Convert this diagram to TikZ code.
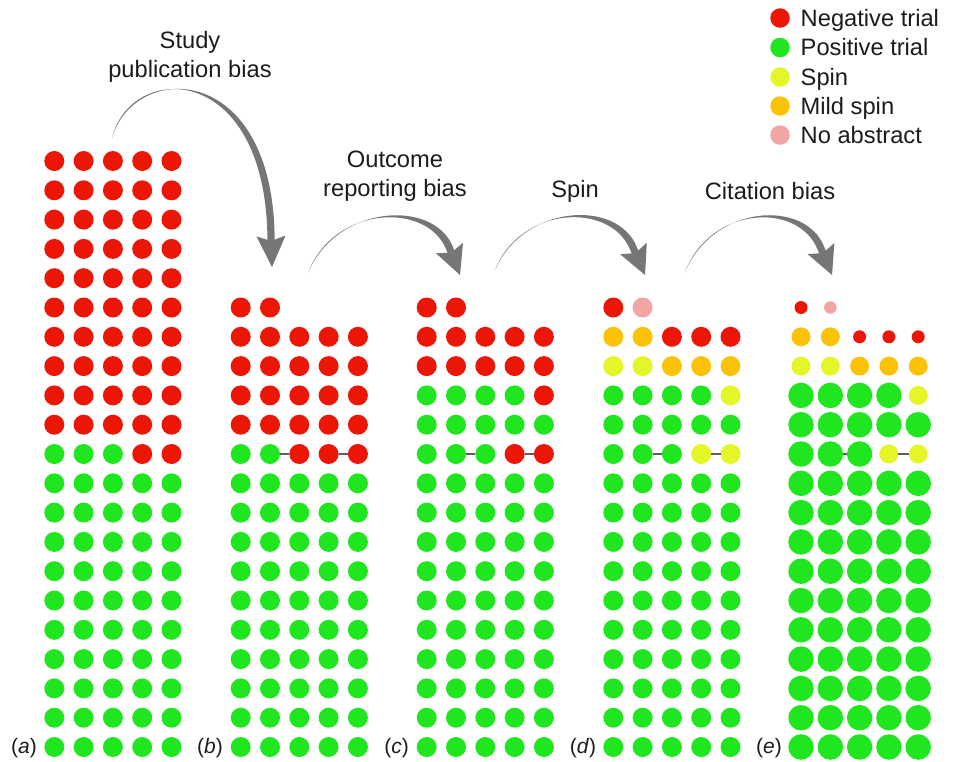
\documentclass[tikz,border=0pt]{standalone}
\usepackage{fontspec}
\setmainfont{Liberation Sans}
\usetikzlibrary{calc}
\definecolor{negred}{RGB}{236,22,6}
\definecolor{posgreen}{RGB}{32,230,32}
\definecolor{spinyellow}{RGB}{228,245,40}
\definecolor{mildorange}{RGB}{252,194,8}
\definecolor{noabpink}{RGB}{242,165,165}
\definecolor{arrowgray}{RGB}{118,118,118}
\definecolor{linkgray}{RGB}{95,95,95}
\definecolor{textdark}{RGB}{28,28,28}
\tikzset{
  dot/.style={circle, inner sep=0pt, outer sep=0pt, draw=none},
  dneg/.style={dot, fill=negred, minimum size=20pt},
  dpos/.style={dot, fill=posgreen, minimum size=20pt},
  dspin/.style={dot, fill=spinyellow, minimum size=20pt},
  dmild/.style={dot, fill=mildorange, minimum size=20pt},
  dnoab/.style={dot, fill=noabpink, minimum size=20pt},
  dnegs/.style={dot, fill=negred, minimum size=13pt},
  dnoabs/.style={dot, fill=noabpink, minimum size=12.5pt},
  dspine/.style={dot, fill=spinyellow, minimum size=19pt},
  dmilde/.style={dot, fill=mildorange, minimum size=19pt},
  dposb/.style={dot, fill=posgreen, minimum size=25.5pt},
  link/.style={draw=linkgray, line width=2pt},
  lbl/.style={font=\fontsize{23.7}{29}\selectfont, align=center, text=textdark, inner sep=0pt},
  plbl/.style={font=\fontsize{21}{25}\selectfont, text=textdark, inner sep=0pt},
  legtxt/.style={font=\fontsize{23.7}{28}\selectfont, text=textdark, inner sep=0pt, anchor=base west},
  legdot/.style={dot, minimum size=19.5pt}
}
\newcommand\dotrow[4]{%
  \foreach \s [count=\c] in {#4} {%
    \edef\dotcmd{\noexpand\node[\s] (#1-#3-\c) at ({#2+(\c-1)*29.3},{161+(#3-1)*29.3}) {};}%
    \dotcmd
  }}
\newcommand\biasarrow[6]{%
  \coordinate (#1s) at #2;
  \coordinate (#1c) at #3;
  \coordinate (#1d) at #4;
  \coordinate (#1e) at #5;
  \coordinate (#1t) at #6;
  \coordinate (#1p) at ($(#1e)!3.6pt!90:(#1t)$);
  \coordinate (#1q) at ($(#1e)!3.6pt!-90:(#1t)$);
  \coordinate (#1l) at ($(#1e)!14.5pt!90:(#1t)$);
  \coordinate (#1r) at ($(#1e)!14.5pt!-90:(#1t)$);
  \coordinate (#1n) at ($(#1e)!5pt!(#1t)$);
  \coordinate (#1pf) at ($(#1p)+(#1n)-(#1e)$);
  \coordinate (#1qf) at ($(#1q)+(#1n)-(#1e)$);
  \fill[arrowgray] (#1s) .. controls ($(#1c)+0.5*(#1p)-0.5*(#1e)$) and ($(#1d)+(#1p)-(#1e)$) .. (#1p)
     -- (#1pf) -- (#1qf) -- (#1q)
     .. controls ($(#1d)+(#1q)-(#1e)$) and ($(#1c)+0.5*(#1q)-0.5*(#1e)$) .. (#1s) -- cycle;
  \fill[arrowgray] (#1l) -- (#1t) -- (#1r) -- (#1n) -- cycle;
}
\begin{document}
\begin{tikzpicture}[x=1pt, y=-1pt]
\useasboundingbox (0,0) rectangle (957,761);
\fill[white] (0,0) rectangle (957,761);

% panel a
\foreach \r in {1,...,10} {\dotrow{a}{54.3}{\r}{dneg,dneg,dneg,dneg,dneg}}
\dotrow{a}{54.3}{11}{dpos,dpos,dpos,dneg,dneg}
\foreach \r in {12,...,21} {\dotrow{a}{54.3}{\r}{dpos,dpos,dpos,dpos,dpos}}

% panel b
\dotrow{b}{240.7}{6}{dneg,dneg}
\foreach \r in {7,...,10} {\dotrow{b}{240.7}{\r}{dneg,dneg,dneg,dneg,dneg}}
\dotrow{b}{240.7}{11}{dpos,dpos,dneg,dneg,dneg}
\foreach \r in {12,...,21} {\dotrow{b}{240.7}{\r}{dpos,dpos,dpos,dpos,dpos}}
\draw[link] (b-11-2) -- (b-11-3);
\draw[link] (b-11-4) -- (b-11-5);

% panel c
\dotrow{c}{426.7}{6}{dneg,dneg}
\foreach \r in {7,8} {\dotrow{c}{426.7}{\r}{dneg,dneg,dneg,dneg,dneg}}
\dotrow{c}{426.7}{9}{dpos,dpos,dpos,dpos,dneg}
\dotrow{c}{426.7}{10}{dpos,dpos,dpos,dpos,dpos}
\dotrow{c}{426.7}{11}{dpos,dpos,dpos,dneg,dneg}
\foreach \r in {12,...,21} {\dotrow{c}{426.7}{\r}{dpos,dpos,dpos,dpos,dpos}}
\draw[link] (c-11-2) -- (c-11-3);
\draw[link] (c-11-4) -- (c-11-5);

% panel d
\dotrow{d}{613.3}{6}{dneg,dnoab}
\dotrow{d}{613.3}{7}{dmild,dmild,dneg,dneg,dneg}
\dotrow{d}{613.3}{8}{dspin,dspin,dmild,dmild,dmild}
\dotrow{d}{613.3}{9}{dpos,dpos,dpos,dpos,dspin}
\dotrow{d}{613.3}{10}{dpos,dpos,dpos,dpos,dpos}
\dotrow{d}{613.3}{11}{dpos,dpos,dpos,dspin,dspin}
\foreach \r in {12,...,21} {\dotrow{d}{613.3}{\r}{dpos,dpos,dpos,dpos,dpos}}
\draw[link] (d-11-2) -- (d-11-3);
\draw[link] (d-11-4) -- (d-11-5);

% panel e
\dotrow{e}{801}{6}{dnegs,dnoabs}
\dotrow{e}{801}{7}{dmilde,dmilde,dnegs,dnegs,dnegs}
\dotrow{e}{801}{8}{dspine,dspine,dmilde,dmilde,dmilde}
\dotrow{e}{801}{9}{dposb,dposb,dposb,dposb,dspine}
\dotrow{e}{801}{10}{dposb,dposb,dposb,dposb,dposb}
\dotrow{e}{801}{11}{dposb,dposb,dposb,dspine,dspine}
\foreach \r in {12,...,21} {\dotrow{e}{801}{\r}{dposb,dposb,dposb,dposb,dposb}}
\draw[link] (e-11-2) -- (e-11-3);
\draw[link] (e-11-4) -- (e-11-5);

% panel labels
\node[plbl] (la) at (24,748) {(\textit{a})};
\node[plbl] (lb) at (210,748) {(\textit{b})};
\node[plbl] (lc) at (396.5,748) {(\textit{c})};
\node[plbl] (ld) at (583,748) {(\textit{d})};
\node[plbl] (le) at (769,748) {(\textit{e})};

% arrows
\biasarrow{A}{(112,138)}{(132,62)}{(268,60)}{(271,236)}{(272,267)}
\biasarrow{B}{(308,273)}{(335,205)}{(430,200)}{(449.5,248)}{(460,275)}
\biasarrow{C}{(495,270)}{(522,205)}{(614,200)}{(633.5,248.5)}{(645,275)}
\biasarrow{D}{(685,272)}{(712,205)}{(802,200)}{(821,248.5)}{(832,275)}

% step labels
\node[lbl] (t1) at (190,57) {Study\\publication bias};
\node[lbl] (t2) at (395,176) {Outcome\\reporting bias};
\node[lbl] (t3) at (575,191) {Spin};
\node[lbl] (t4) at (770,191) {Citation bias};

% legend
\node[legdot, fill=negred] (k1) at (780,18) {};
\node[legdot, fill=posgreen] (k2) at (780,47.5) {};
\node[legdot, fill=spinyellow] (k3) at (780,77) {};
\node[legdot, fill=mildorange] (k4) at (780,106) {};
\node[legdot, fill=noabpink] (k5) at (780,135) {};
\node[legtxt] (k1t) at (800.5,26.4) {Negative trial};
\node[legtxt] (k2t) at (800.5,55.9) {Positive trial};
\node[legtxt] (k3t) at (800.5,85.4) {Spin};
\node[legtxt] (k4t) at (800.5,114.4) {Mild spin};
\node[legtxt] (k5t) at (800.5,143.4) {No abstract};
\end{tikzpicture}
\end{document}
